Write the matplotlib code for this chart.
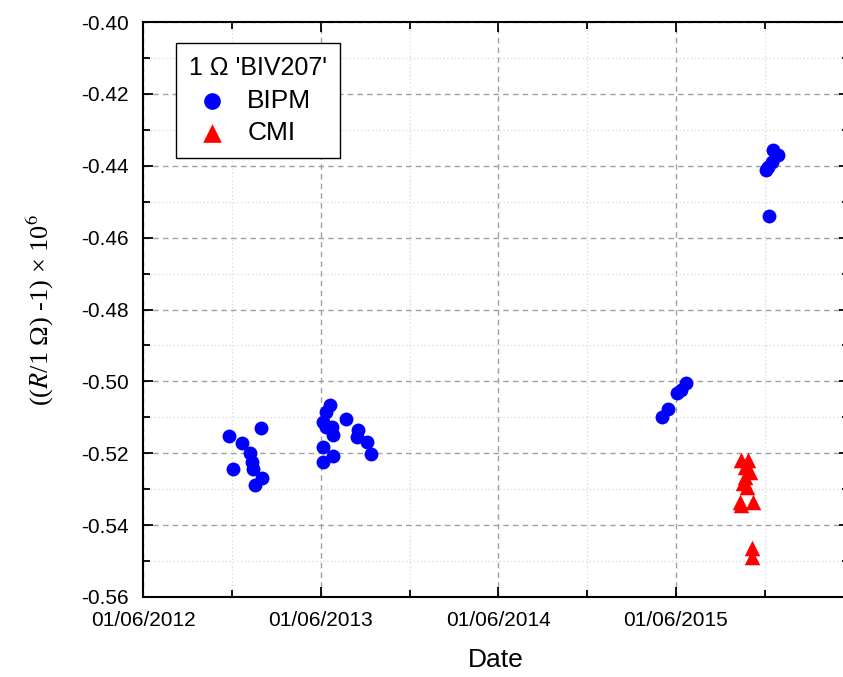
import numpy as np
import pandas as pd
import matplotlib
matplotlib.use("Agg")
import matplotlib.pyplot as plt
import matplotlib.dates as mdates
from matplotlib.ticker import MultipleLocator, FormatStrFormatter

plt.rcParams["font.family"] = ["Liberation Sans", "DejaVu Sans"]
plt.rcParams["mathtext.fontset"] = "stix"

# BIPM measurements of 1 ohm standard BIV207
bipm_dates = [
    "2012-11-25", "2013-01-29", "2012-12-21", "2013-01-06", "2013-01-10",
    "2013-01-13", "2012-12-02", "2013-01-31", "2013-01-17",
    "2013-06-20", "2013-06-12", "2013-06-05", "2013-06-13", "2013-06-25",
    "2013-06-27", "2013-06-06", "2013-06-27", "2013-06-05", "2013-07-24",
    "2013-08-17", "2013-08-14", "2013-09-04", "2013-09-12",
    "2015-05-03", "2015-05-16", "2015-06-03", "2015-06-11", "2015-06-22",
    "2015-12-18", "2015-12-28", "2015-12-15", "2015-12-08", "2015-12-03",
    "2015-12-10",
]
bipm_vals = [
    -0.5151, -0.5131, -0.5172, -0.5198, -0.5224,
    -0.5245, -0.5244, -0.5270, -0.5288,
    -0.5066, -0.5084, -0.5112, -0.5126, -0.5126,
    -0.5149, -0.5183, -0.5208, -0.5224, -0.5106,
    -0.5135, -0.5154, -0.5168, -0.5202,
    -0.5100, -0.5077, -0.5032, -0.5024, -0.5005,
    -0.4356, -0.4370, -0.4389, -0.4403, -0.4412,
    -0.4540,
]

# CMI measurements
cmi_dates = [
    "2015-10-14", "2015-10-28", "2015-10-21", "2015-10-31", "2015-10-21",
    "2015-10-18", "2015-10-25", "2015-10-11", "2015-11-06", "2015-10-14",
    "2015-11-04", "2015-11-04",
]
cmi_vals = [
    -0.5219, -0.5219, -0.5237, -0.5251, -0.5265,
    -0.5283, -0.5293, -0.5335, -0.5335, -0.5344,
    -0.5465, -0.5488,
]

bipm_x = pd.to_datetime(bipm_dates)
cmi_x = pd.to_datetime(cmi_dates)

fig = plt.figure(figsize=(8.43, 6.77), dpi=100)
# plot area runs on past the right edge of the figure
ax = fig.add_axes([143 / 843, 80 / 677, 706 / 843, 575 / 677])

ax.scatter(bipm_x, bipm_vals, s=100, marker="o", color="#0000ff", linewidths=0,
           label="BIPM", zorder=3)
ax.scatter(cmi_x, cmi_vals, s=125, marker="^", color="#ff0000", linewidths=0,
           label="CMI", zorder=3)

ax.set_xlim(pd.Timestamp("2012-06-01"), pd.Timestamp("2016-05-22"))
ax.set_ylim(-0.56, -0.40)

ax.xaxis.set_major_locator(mdates.MonthLocator(bymonth=6, bymonthday=1))
ax.xaxis.set_minor_locator(mdates.MonthLocator(bymonth=12, bymonthday=1))
ax.xaxis.set_major_formatter(mdates.DateFormatter("%d/%m/%Y"))
ax.yaxis.set_major_locator(MultipleLocator(0.02))
ax.yaxis.set_minor_locator(MultipleLocator(0.01))
ax.yaxis.set_major_formatter(FormatStrFormatter("%.2f"))

ax.grid(which="major", linestyle=(0, (4, 3)), color="#a0a0a0", linewidth=1.0, zorder=0)
ax.grid(which="minor", linestyle=(0, (1, 2)), color="#d8d8d8", linewidth=0.9, zorder=0)

ax.tick_params(which="both", direction="in", top=True, right=True, labelsize=15, width=1.3)
ax.tick_params(which="major", length=7)
ax.tick_params(which="minor", length=5)
ax.tick_params(axis="x", pad=10)
ax.tick_params(axis="y", pad=10)
for sp in ax.spines.values():
    sp.set_linewidth(1.5)

ax.set_xlabel("Date", fontsize=19, labelpad=13)
ax.set_ylabel("((" + r"$R$" + "/1 \u03a9) -1) \u00d7 10" + r"$^{6}$",
              fontsize=19, family="Liberation Serif", labelpad=18)

leg = ax.legend(title="1 \u03a9 'BIV207'", loc="upper left",
                bbox_to_anchor=((176 - 143) / 706, 1 - (43 - 22) / 575),
                borderaxespad=0, fontsize=19, title_fontsize=18, fancybox=False,
                edgecolor="black", framealpha=1, alignment="left",
                handlelength=1.7, handletextpad=0.5, labelspacing=0.32,
                borderpad=0.5, markerscale=1.2)
leg.get_frame().set_linewidth(1.0)

fig.savefig("out.png", dpi=100)
